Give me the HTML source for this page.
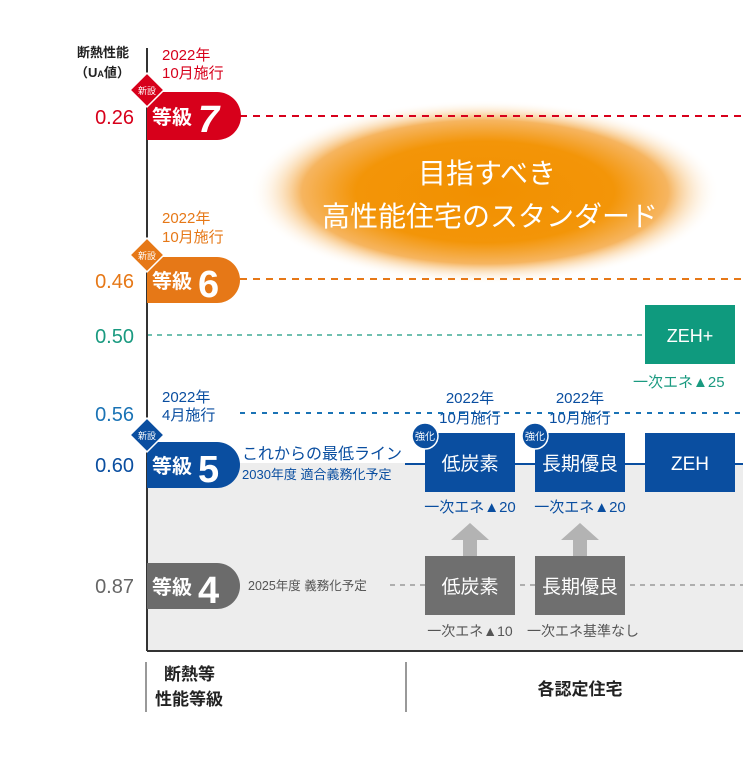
<!DOCTYPE html>
<html><head><meta charset="utf-8"><style>
body{margin:0;background:#fff;width:743px;height:768px;overflow:hidden}
svg{display:block}
text{font-family:"Liberation Sans","Noto Sans CJK JP",sans-serif}
</style></head><body>
<svg width="743" height="768" viewBox="0 0 743 768" xmlns="http://www.w3.org/2000/svg">
<defs>
<radialGradient id="g" cx="50%" cy="50%" r="50%">
<stop offset="0" stop-color="#f29000"/><stop offset="0.55" stop-color="#f39508"/><stop offset="0.78" stop-color="#f6b560"/><stop offset="1" stop-color="#fff" stop-opacity="0"/>
</radialGradient>
</defs>
<rect x="147" y="463" width="596" height="188" fill="#ededed"/>
<ellipse cx="485" cy="192" rx="235" ry="92" fill="url(#g)"/>
<text x="487" y="183" font-size="28" fill="#fff" text-anchor="middle">目指すべき</text>
<text x="490" y="226" font-size="28" fill="#fff" text-anchor="middle">高性能住宅のスタンダード</text>
<line x1="240" y1="116" x2="743" y2="116" stroke="#d7001b" stroke-width="2" stroke-dasharray="7,6"/>
<line x1="240" y1="279" x2="743" y2="279" stroke="#e67817" stroke-width="2" stroke-dasharray="7,6"/>
<line x1="147" y1="335" x2="645" y2="335" stroke="#1a9a80" stroke-width="1.3" stroke-dasharray="5,5"/>
<line x1="240" y1="413" x2="743" y2="413" stroke="#1a73b5" stroke-width="2" stroke-dasharray="5,6"/>
<line x1="405" y1="464" x2="743" y2="464" stroke="#0a4ea0" stroke-width="2"/>
<line x1="390" y1="585" x2="743" y2="585" stroke="#888" stroke-width="1.3" stroke-dasharray="5,5"/>
<line x1="147" y1="48" x2="147" y2="651" stroke="#333" stroke-width="2"/>
<line x1="147" y1="651" x2="743" y2="651" stroke="#333" stroke-width="2"/>
<text x="77" y="57" font-size="13" font-weight="bold" fill="#222">断熱性能</text>
<text x="75" y="77" font-size="13" font-weight="bold" fill="#222">（U<tspan font-size="9">A</tspan>値）</text>
<g font-size="20" text-anchor="end">
<text x="134" y="124" fill="#d7001b">0.26</text>
<text x="134" y="288" fill="#e67817">0.46</text>
<text x="134" y="343" fill="#1a9a80">0.50</text>
<text x="134" y="421" fill="#1a73b5">0.56</text>
<text x="134" y="472" fill="#0a4ea0">0.60</text>
<text x="134" y="593" fill="#666">0.87</text>
</g>
<text x="162" y="60" font-size="15" fill="#d7001b">2022年</text>
<text x="162" y="78" font-size="15" fill="#d7001b">10月施行</text>
<path d="M147 92 H217 A24 24 0 0 1 217 140 H147 Z" fill="#d7001b"/>
<text x="152" y="124" font-size="20" font-weight="bold" fill="#fff">等級</text>
<text x="198" y="132" font-size="38" font-weight="bold" font-style="italic" fill="#fff">7</text>
<rect x="135" y="78" width="24" height="24" fill="#d7001b" stroke="#fff" stroke-width="1.5" transform="rotate(45 147 90)"/>
<text x="147" y="94" font-size="9" fill="#fff" text-anchor="middle">新設</text>
<text x="162" y="223" font-size="15" fill="#e67817">2022年</text>
<text x="162" y="242" font-size="15" fill="#e67817">10月施行</text>
<path d="M147 257 H217 A23 23 0 0 1 217 303 H147 Z" fill="#e67817"/>
<text x="152" y="288" font-size="20" font-weight="bold" fill="#fff">等級</text>
<text x="198" y="297" font-size="38" font-weight="bold" fill="#fff">6</text>
<rect x="135" y="243" width="24" height="24" fill="#e67817" stroke="#fff" stroke-width="1.5" transform="rotate(45 147 255)"/>
<text x="147" y="259" font-size="9" fill="#fff" text-anchor="middle">新設</text>
<text x="162" y="402" font-size="15" fill="#0a4ea0">2022年</text>
<text x="162" y="420" font-size="15" fill="#0a4ea0">4月施行</text>
<path d="M147 442 H217 A23 23 0 0 1 217 488 H147 Z" fill="#0a4ea0"/>
<text x="152" y="473" font-size="20" font-weight="bold" fill="#fff">等級</text>
<text x="198" y="482" font-size="38" font-weight="bold" fill="#fff">5</text>
<rect x="135" y="423" width="24" height="24" fill="#0a4ea0" stroke="#fff" stroke-width="1.5" transform="rotate(45 147 435)"/>
<text x="147" y="439" font-size="9" fill="#fff" text-anchor="middle">新設</text>
<text x="242" y="459" font-size="16" fill="#0a4ea0">これからの最低ライン</text>
<text x="242" y="479" font-size="13" fill="#0a4ea0">2030年度 適合義務化予定</text>
<path d="M147 563 H217 A23 23 0 0 1 217 609 H147 Z" fill="#6b6b6b"/>
<text x="152" y="594" font-size="20" font-weight="bold" fill="#fff">等級</text>
<text x="198" y="603" font-size="38" font-weight="bold" fill="#fff">4</text>
<text x="248" y="590" font-size="12.5" fill="#555">2025年度 義務化予定</text>
<rect x="645" y="305" width="90" height="59" fill="#0f9a7e"/>
<text x="690" y="342" font-size="18" fill="#fff" text-anchor="middle">ZEH+</text>
<text x="633" y="387" font-size="15" fill="#1a9a80">一次エネ▲25</text>
<g font-size="15" fill="#0a4ea0" text-anchor="middle">
<text x="470" y="403">2022年</text><text x="470" y="423">10月施行</text>
<text x="580" y="403">2022年</text><text x="580" y="423">10月施行</text>
</g>
<rect x="425" y="433" width="90" height="59" fill="#0a4ea0"/>
<rect x="535" y="433" width="90" height="59" fill="#0a4ea0"/>
<rect x="645" y="433" width="90" height="59" fill="#0a4ea0"/>
<g font-size="19" fill="#fff" text-anchor="middle">
<text x="470" y="470">低炭素</text><text x="580" y="470">長期優良</text><text x="690" y="470">ZEH</text>
</g>
<circle cx="425" cy="436" r="13" fill="#0a4ea0" stroke="#fff" stroke-width="1.5"/>
<circle cx="535" cy="436" r="13" fill="#0a4ea0" stroke="#fff" stroke-width="1.5"/>
<text x="425" y="440" font-size="10" fill="#fff" text-anchor="middle">強化</text>
<text x="535" y="440" font-size="10" fill="#fff" text-anchor="middle">強化</text>
<g font-size="15" fill="#0a4ea0" text-anchor="middle">
<text x="470" y="512">一次エネ▲20</text><text x="580" y="512">一次エネ▲20</text>
</g>
<path d="M470 523 L489 540 H477 V556 H463 V540 H451 Z" fill="#b3b3b3"/>
<path d="M580 523 L599 540 H587 V556 H573 V540 H561 Z" fill="#b3b3b3"/>
<rect x="425" y="556" width="90" height="59" fill="#6f6f6f"/>
<rect x="535" y="556" width="90" height="59" fill="#6f6f6f"/>
<g font-size="19" fill="#fff" text-anchor="middle">
<text x="470" y="593">低炭素</text><text x="580" y="593">長期優良</text>
</g>
<g font-size="14" fill="#555" text-anchor="middle">
<text x="470" y="636">一次エネ▲10</text><text x="583" y="636">一次エネ基準なし</text>
</g>
<line x1="146" y1="662" x2="146" y2="712" stroke="#555" stroke-width="1.2"/>
<line x1="406" y1="662" x2="406" y2="712" stroke="#555" stroke-width="1.2"/>
<text x="164" y="680" font-size="17" font-weight="bold" fill="#222">断熱等</text>
<text x="155" y="705" font-size="17" font-weight="bold" fill="#222">性能等級</text>
<text x="580" y="695" font-size="17" font-weight="bold" fill="#222" text-anchor="middle">各認定住宅</text>
</svg>
</body></html>
